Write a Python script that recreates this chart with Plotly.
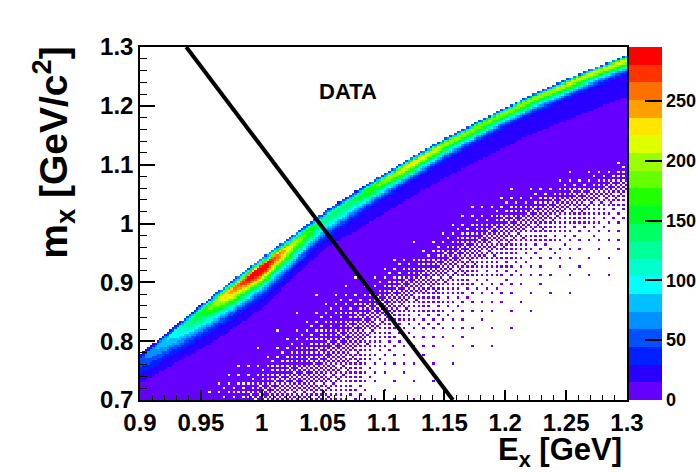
import numpy as np
import plotly.graph_objects as go

# ---- values ----
E_KNOTS = [0.900, 0.925, 0.950, 0.975, 1.000, 1.025, 1.050, 1.075, 1.100,
           1.125, 1.150, 1.175, 1.200, 1.225, 1.250, 1.275, 1.300]
# upper kinematic edge of the band (m_x) at each E_x knot
EDGE_M = [0.777, 0.820, 0.862, 0.902, 0.941, 0.980, 1.018, 1.052, 1.084,
          1.115, 1.144, 1.171, 1.197, 1.222, 1.245, 1.266, 1.286]
# maximum counts along the ridge
PEAK_COUNTS = [35, 70, 130, 215, 282, 180, 100, 115, 160,
               200, 170, 160, 160, 165, 175, 180, 185]
# depth of ridge maximum below edge
PEAK_DEPTH = [0.009, 0.011, 0.013, 0.015, 0.016, 0.015, 0.013, 0.012, 0.011,
              0.010, 0.009, 0.009, 0.008, 0.008, 0.008, 0.007, 0.007]
# ridge width (below the maximum)
RIDGE_WIDTH = [0.026, 0.028, 0.030, 0.030, 0.030, 0.028, 0.025, 0.022, 0.019,
               0.018, 0.017, 0.016, 0.015, 0.015, 0.015, 0.014, 0.014]
# broad component under the ridge
SHOULDER_COUNTS = [14, 20, 28, 36, 40, 36, 32, 30, 30, 30, 30, 30, 30, 30, 32, 32, 32]
SHOULDER_WIDTH = [0.035, 0.040, 0.045, 0.045, 0.045, 0.045, 0.045, 0.045, 0.045,
                  0.045, 0.045, 0.045, 0.045, 0.045, 0.045, 0.045, 0.045]
# m_x where the low-count region stops being fully filled / is half filled
SOLID_M = [0.60, 0.66, 0.71, 0.76, 0.80, 0.85, 0.90, 0.915, 0.93,
           0.965, 1.00, 1.035, 1.064, 1.072, 1.08, 1.095, 1.11]
HALF_M = [0.52, 0.58, 0.63, 0.67, 0.71, 0.735, 0.76, 0.815, 0.87,
          0.905, 0.94, 0.975, 1.006, 1.026, 1.045, 1.06, 1.074]
BACKGROUND_CAP = 8.0

# black cut line
LINE_E = [0.938, 1.157]
LINE_M = [1.3, 0.7]

X_TICKS = [0.9, 0.95, 1.0, 1.05, 1.1, 1.15, 1.2, 1.25, 1.3]
X_LABELS = ["0.9", "0.95", "1", "1.05", "1.1", "1.15", "1.2", "1.25", "1.3"]
Y_TICKS = [0.7, 0.8, 0.9, 1.0, 1.1, 1.2, 1.3]
Y_LABELS = ["0.7", "0.8", "0.9", "1", "1.1", "1.2", "1.3"]
Z_TICKS = [0, 50, 100, 150, 200, 250]
Z_MAX = 295

PALETTE = ["#6500FF", "#2800FF", "#0020FF", "#0050FF", "#0090FF", "#00C0FF",
           "#00FFFF", "#00FFCC", "#00FF99", "#00FF66", "#00FF22", "#22FF00",
           "#66FF00", "#99FF00", "#DDFF00", "#FFE600", "#FFA000", "#FF7000",
           "#FF3300", "#FF0000"]

# ---- build histogram cells ----
NX, NY = 200, 160
xc = 0.9 + (np.arange(NX) + 0.5) * 0.4 / NX
yc = 0.7 + (np.arange(NY) + 0.5) * 0.6 / NY

def col(arr):
    return np.interp(xc, E_KNOTS, arr)[None, :]

edge = col(EDGE_M)
peak = col(PEAK_COUNTS)
dp = col(PEAK_DEPTH)
w = col(RIDGE_WIDTH)
sh = col(SHOULDER_COUNTS)
shw = col(SHOULDER_WIDTH)
solid = col(SOLID_M)
half = col(HALF_M)

Y = yc[:, None]
D = edge - Y
wside = np.where(D < dp, dp * 0.55, w)
ridge = peak * np.exp(-((D - dp) / wside) ** 2)
shoulder = sh * np.exp(-np.clip(D, 0, None) / shw)
scale = (solid - half) / np.log(3 / 0.7)
bg = np.minimum(BACKGROUND_CAP, 3.0 * np.exp((Y - solid) / scale))
lam = ridge + shoulder + bg
occ = 1 - np.exp(-lam)

def bayer(n):
    M = np.array([[0, 2], [3, 1]])
    while M.shape[0] < n:
        M = np.block([[4 * M, 4 * M + 2], [4 * M + 3, 4 * M + 1]])
    return (M + 0.5) / M.size

B = bayer(8)
thr = B[np.arange(NY)[:, None] % 8, np.arange(NX)[None, :] % 8]
show = (D >= 0) & (occ > thr)
z = [[(round(float(lam[i, j]), 2) if show[i, j] else None) for j in range(NX)] for i in range(NY)]

n = len(PALETTE)
cscale = []
for i, c in enumerate(PALETTE):
    cscale.append([i / n, c])
    cscale.append([(i + 1) / n, c])

FONT = "Liberation Sans"

def bold(s):
    return "<b>" + s + "</b>"

fig = go.Figure()
fig.add_trace(go.Heatmap(
    x=xc, y=yc, z=z, zmin=0, zmax=Z_MAX, colorscale=cscale, zsmooth=False,
    hoverinfo="skip",
    colorbar=dict(
        x=1.004, xanchor="left", xpad=0, ypad=0, y=0.5, yanchor="middle",
        len=1.0, lenmode="fraction", thickness=33, thicknessmode="pixels",
        outlinewidth=0, tickvals=Z_TICKS, ticktext=[bold(str(v)) for v in Z_TICKS],
        ticks="inside", ticklen=17, tickwidth=1.5, tickcolor="black",
        tickfont=dict(family=FONT, size=18, color="black"),
    ),
))
fig.add_trace(go.Scatter(x=LINE_E, y=LINE_M, mode="lines",
                         line=dict(color="black", width=4), hoverinfo="skip",
                         showlegend=False))

axis_common = dict(showgrid=False, zeroline=False, showline=True, linecolor="black",
                   linewidth=1.5, mirror=True, ticks="inside", tickcolor="black",
                   tickwidth=1.5)
fig.update_xaxes(range=[0.9, 1.3], tickvals=X_TICKS, ticktext=[bold(s) for s in X_LABELS],
                 ticklen=10,
                 tickfont=dict(family=FONT, size=24, color="black"),
                 minor=dict(tick0=0.9, dtick=0.01, ticks="inside", ticklen=5,
                            tickcolor="black", tickwidth=1.2, showgrid=False),
                 **axis_common)
fig.update_yaxes(range=[0.7, 1.3], tickvals=Y_TICKS, ticktext=[bold(s) for s in Y_LABELS],
                 ticklen=15,
                 tickfont=dict(family=FONT, size=24, color="black"),
                 minor=dict(tick0=0.7, dtick=0.02, ticks="inside", ticklen=7,
                            tickcolor="black", tickwidth=1.2, showgrid=False),
                 **axis_common)

fig.update_layout(
    width=696, height=472,
    margin=dict(l=140, r=69, t=47, b=72, autoexpand=False),
    paper_bgcolor="white", plot_bgcolor="white",
    showlegend=False,
    annotations=[
        dict(text=bold("DATA"), x=0.427, y=0.915, xref="paper", yref="paper",
             showarrow=False, font=dict(family=FONT, size=22, color="black")),
        dict(text=bold("E<sub>x</sub> [GeV]"), x=0.994, y=-0.147, xref="paper", yref="paper",
             xanchor="right", yanchor="middle", showarrow=False,
             font=dict(family=FONT, size=31, color="black")),
        dict(text=bold("m<sub>x</sub> [GeV/c<sup>2</sup>]"), x=-0.177, y=0.70, xref="paper",
             yref="paper", textangle=-90, xanchor="center", yanchor="middle",
             showarrow=False, font=dict(family=FONT, size=39, color="black")),
    ],
)

fig.write_html("out.html", config={"displayModeBar": False},
               post_script="document.body.style.margin='0';document.body.style.overflow='hidden';")
